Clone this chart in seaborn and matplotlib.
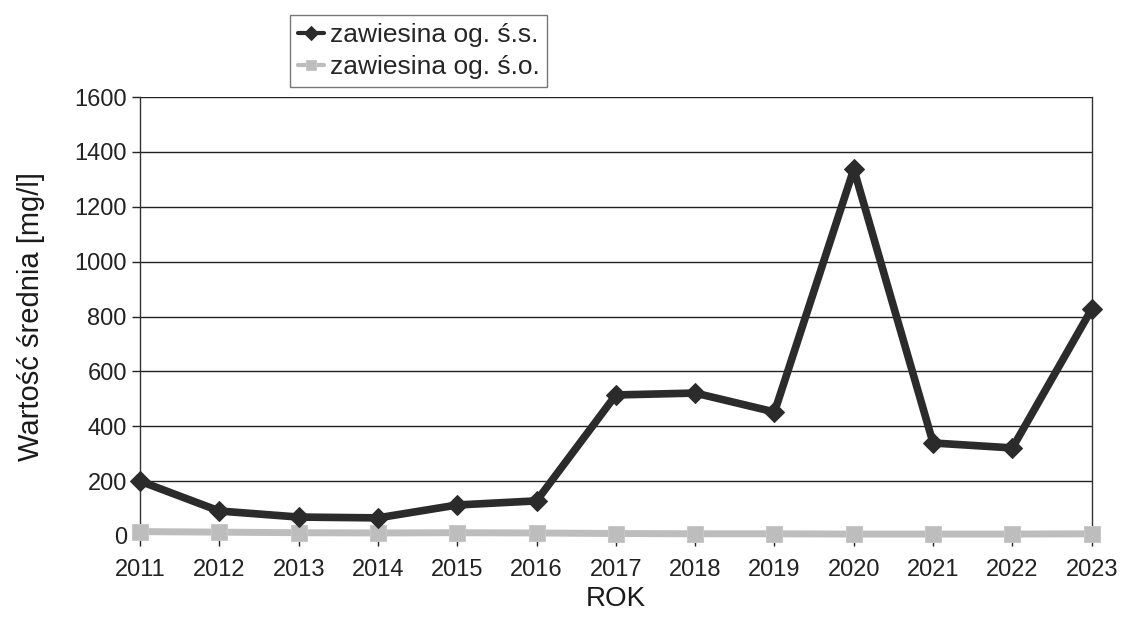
import matplotlib
matplotlib.use("Agg")
import matplotlib.pyplot as plt
import seaborn as sns
import pandas as pd

years = [2011, 2012, 2013, 2014, 2015, 2016, 2017, 2018, 2019, 2020, 2021, 2022, 2023]
zaw_ss = [200, 91, 69, 66, 113, 128, 514, 521, 452, 1337, 339, 321, 827]
zaw_so = [16, 14, 12, 11, 12, 11, 9, 8, 8, 7, 7, 7, 8]
series_names = ["zawiesina og. ś.s.", "zawiesina og. ś.o."]
y_ticks = [0, 200, 400, 600, 800, 1000, 1200, 1400, 1600]

sns.set_theme(style="white")
plt.rcParams['font.family'] = ['Liberation Sans', 'DejaVu Sans']

df = pd.DataFrame({
    "ROK": years * 2,
    "val": zaw_ss + zaw_so,
    "seria": [series_names[0]] * len(years) + [series_names[1]] * len(years),
})

fig = plt.figure(figsize=(11.22, 6.2), dpi=100)
ax = fig.add_axes([0.1248, 0.1355, 0.973 - 0.1248, 0.8435 - 0.1355])

ax.set_axisbelow(True)
for yv in y_ticks[1:]:
    ax.axhline(yv, color="#222222", lw=1.0, zorder=0)

sns.lineplot(data=df[df.seria == series_names[1]], x="ROK", y="val", ax=ax,
             color="#bdbdbd", lw=5, marker="s", markersize=12,
             markeredgecolor="#c8c8c8", label=series_names[1], zorder=3, clip_on=False)
sns.lineplot(data=df[df.seria == series_names[0]], x="ROK", y="val", ax=ax,
             color="#2b2b2b", lw=5.5, marker="D", markersize=10,
             markeredgecolor="#2b2b2b", label=series_names[0], zorder=4, clip_on=False)

ax.set_xlim(2011, 2023)
ax.set_ylim(0, 1600)
ax.set_xticks(years)
ax.set_xticklabels([str(y) for y in years])
ax.set_yticks(y_ticks)
ax.tick_params(axis="both", labelsize=17, colors="#222222", direction="out",
               width=1, left=True, bottom=True)
ax.tick_params(axis="x", pad=9, length=7.5)
ax.tick_params(axis="y", pad=4, length=5.5)
for s in ["left", "right", "bottom"]:
    ax.spines[s].set_visible(True)
    ax.spines[s].set_color("#333333")
    ax.spines[s].set_linewidth(1)
ax.spines["top"].set_visible(False)
ax.spines["bottom"].set_visible(False)

ax.set_xlabel("ROK", fontsize=20, color="#1a1a1a", labelpad=4)
ax.set_ylabel("Wartość średnia [mg/l]", fontsize=21, color="#1a1a1a", labelpad=21)

handles, labels = ax.get_legend_handles_labels()
order = [labels.index(series_names[0]), labels.index(series_names[1])]
leg = ax.legend([handles[i] for i in order], [labels[i] for i in order],
                loc="upper left", bbox_to_anchor=(290 / 1122, 1 - 15 / 620),
                bbox_transform=fig.transFigure, frameon=True, fancybox=False,
                fontsize=19, handlelength=1.0, handletextpad=0.2,
                borderpad=0.3, labelspacing=0.3, borderaxespad=0,
                edgecolor="#555555")
leg.get_frame().set_linewidth(1)
for h in leg.legend_handles:
    h.set_markersize(7)
    h.set_linewidth(3)

fig.savefig("out.png", dpi=100)
